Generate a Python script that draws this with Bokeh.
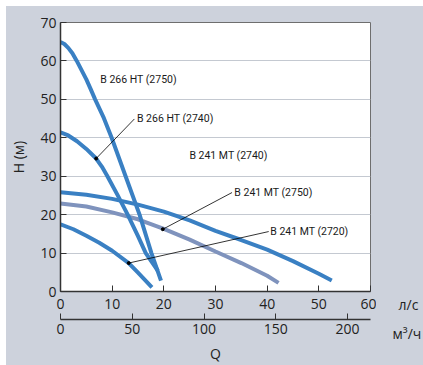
from bokeh.plotting import figure
from bokeh.layouts import row
from bokeh.models import Range1d, LinearAxis, FixedTicker, ColumnDataSource
from bokeh.embed import file_html
from bokeh.resources import INLINE
from bokeh.core.properties import value

# ---- data (Q in l/s, H in m) ----
q_ht2750 = [0, 0.75, 1.5, 2.3, 3.15, 4.0, 5.0, 5.8, 6.7, 8.4, 9.9, 12.6, 15.3, 17.6, 19.45]
h_ht2750 = [64.9, 64.4, 63.4, 62.0, 60.0, 57.8, 55.2, 52.8, 50.0, 45.1, 40.0, 30.0, 20.0, 10.0, 2.85]

q_ht2740 = [0, 1.5, 3.2, 5.0, 6.9, 8.0, 9.0, 11.0, 13.0, 15.0, 16.5, 18.85]
h_ht2740 = [41.4, 40.6, 39.1, 37.1, 34.6, 32.5, 30.2, 25.2, 20.0, 14.4, 10.0, 5.4]

q_mt2740 = [0, 5, 10, 15, 20, 25, 30, 35, 40, 45, 50, 52.5]
h_mt2740 = [25.8, 25.2, 24.1, 22.6, 20.8, 18.5, 15.8, 13.4, 10.9, 7.9, 4.6, 2.85]

q_mt2750 = [0, 5, 10, 15, 20, 25, 30, 35, 40, 42.2]
h_mt2750 = [22.9, 22.1, 20.6, 18.8, 16.3, 13.5, 10.4, 7.4, 4.1, 2.25]

q_mt2720 = [0, 2.5, 5, 7.5, 10, 13.2, 15, 17.7]
h_mt2720 = [17.5, 16.2, 14.5, 12.7, 10.6, 7.4, 4.9, 1.1]

labels = ["B 266 HT (2750)", "B 266 HT (2740)", "B 241 MT (2740)",
          "B 241 MT (2750)", "B 241 MT (2720)"]
label_x = [7.7, 14.8, 24.95, 33.65, 40.6]
label_y = [55.1, 44.9, 35.4, 25.75, 15.65]

leader_x0 = [6.9, 19.8, 13.2]
leader_y0 = [34.6, 16.2, 7.4]
leader_x1 = [14.3, 33.2, 40.3]
leader_y1 = [44.9, 25.75, 15.6]

x_ticks = [0, 10, 20, 30, 40, 50, 60]
y_ticks = [0, 10, 20, 30, 40, 50, 60, 70]
m3h_ticks = [0, 50, 100, 150, 200]
LS_TO_M3H = 3.6

unit_texts = ["л/с", "м³/ч"]

BLUE = "#3a80c3"
GREY = "#7f93bd"
BG = "#cdd2dc"
TXT = "#222222"
TICK_FONT = "Open Sans"
LABEL_FONT = "Roboto"

p = figure(width=370, height=359, x_range=Range1d(0, 60), y_range=Range1d(0, 70),
           output_backend="svg", toolbar_location=None,
           min_border_left=54, min_border_top=16, min_border_right=6,
           min_border_bottom=72)
p.frame_align = False
p.background_fill_color = "white"
p.border_fill_color = BG
p.outline_line_color = "#6e6e6e"
p.outline_line_width = 1

p.xgrid.visible = False
p.ygrid.ticker = FixedTicker(ticks=y_ticks)
p.ygrid.grid_line_color = "#c4c9d1"
p.ygrid.grid_line_width = 1


def style_axis(ax, standoff):
    ax.major_tick_in = 6
    ax.major_tick_out = 0
    ax.minor_tick_line_color = None
    ax.axis_line_color = "#333333"
    ax.axis_line_width = 1.5
    ax.major_tick_line_color = "#333333"
    ax.major_label_text_font = TICK_FONT
    ax.major_label_text_font_size = "14px"
    ax.major_label_text_color = TXT
    ax.major_label_standoff = standoff
    ax.axis_label_text_font = TICK_FONT
    ax.axis_label_text_font_size = "14px"
    ax.axis_label_text_font_style = "normal"
    ax.axis_label_text_color = TXT


# primary x axis (l/s)
xa = p.xaxis[0]
xa.ticker = FixedTicker(ticks=x_ticks)
style_axis(xa, 7)
xa.axis_label = " "
xa.axis_label_text_font_size = "4px"
xa.axis_label_standoff = 0

# y axis
ya = p.yaxis[0]
ya.ticker = FixedTicker(ticks=y_ticks)
style_axis(ya, 4)
ya.axis_label = "H (м)"
ya.axis_label_standoff = 9

# secondary x axis (m3/h)
p.extra_x_ranges = {"m3h": Range1d(0, 60 * LS_TO_M3H)}
xb = LinearAxis(x_range_name="m3h", ticker=FixedTicker(ticks=m3h_ticks))
style_axis(xb, 4)
xb.axis_label = "Q"
xb.axis_label_standoff = 7
p.add_layout(xb, "below")

# curves
p.line(q_mt2750, h_mt2750, line_color=GREY, line_width=4)
p.line(q_mt2740, h_mt2740, line_color=BLUE, line_width=4)
p.line(q_mt2720, h_mt2720, line_color=BLUE, line_width=4)
p.line(q_ht2740, h_ht2740, line_color=BLUE, line_width=4)
p.line(q_ht2750, h_ht2750, line_color=BLUE, line_width=4)

# leaders
p.segment(x0=leader_x0, y0=leader_y0, x1=leader_x1, y1=leader_y1,
          line_color="black", line_width=0.8)
p.scatter(leader_x0, leader_y0, size=3, color="black")

# curve labels
src = ColumnDataSource(dict(x=label_x, y=label_y, t=labels))
p.text(x="x", y="y", text="t", source=src, text_font=value(LABEL_FONT),
       text_font_size="10.5px", text_baseline="middle", text_align="left",
       text_color="#1a1a1a")

# right-hand strip carrying the unit names (pixel-like coordinates, y down)
side = figure(width=47, height=359, x_range=Range1d(0, 47), y_range=Range1d(359, 0),
              output_backend="svg", toolbar_location=None,
              x_axis_location=None, y_axis_location=None,
              min_border_left=0, min_border_right=0, min_border_top=0,
              min_border_bottom=0)
side.frame_align = False
side.grid.visible = False
side.outline_line_color = None
side.background_fill_color = BG
side.border_fill_color = BG
side.text(x=[22, 16], y=[298, 327], text=unit_texts, text_font=value(TICK_FONT),
          text_font_size="14px", text_baseline="middle", text_align="left",
          text_color=TXT)

layout = row(p, side, margin=(6, 0, 0, 6), spacing=0,
             styles={"background-color": BG})
open("out.html", "w").write(file_html(layout, INLINE))
